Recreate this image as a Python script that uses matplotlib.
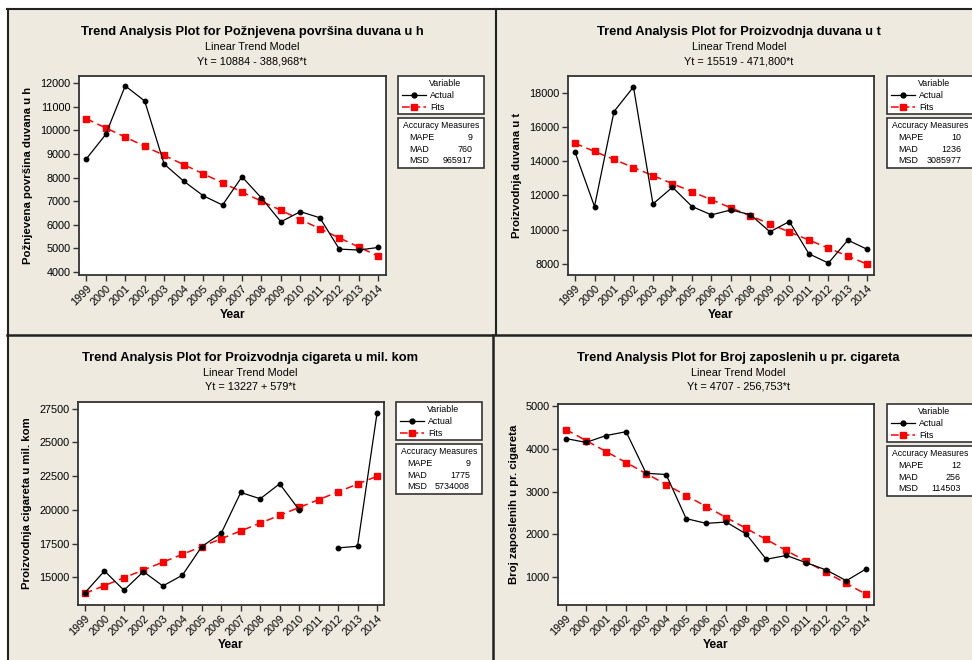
import numpy as np
import matplotlib.pyplot as plt
from matplotlib.lines import Line2D
from matplotlib.patches import Rectangle

plt.rcParams['font.family'] = ['Liberation Sans', 'DejaVu Sans']

# === DATA === #
years = ['1999', '2000', '2001', '2002', '2003', '2004', '2005', '2006',
         '2007', '2008', '2009', '2010', '2011', '2012', '2013', '2014']

povrsina_actual = [8790, 9830, 11890, 11250, 8570, 7850, 7230, 6830,
                   8030, 7130, 6120, 6550, 6290, 4960, 4920, 5030]
povrsina_fits = [10495, 10106, 9717, 9328, 8939, 8550, 8161, 7772,
                 7383, 6994, 6605, 6216, 5827, 5438, 5050, 4661]
povrsina_acc = ['9', '760', '965917']

duvan_actual = [14540, 11350, 16910, 18350, 11500, 12480, 11350, 10860,
                11150, 10870, 9870, 10470, 8580, 8040, 9380, 8840]
duvan_fits = [15047, 14575, 14104, 13632, 13160, 12688, 12216, 11745,
              11273, 10801, 10329, 9857, 9386, 8914, 8442, 7970]
duvan_acc = ['10', '1236', '3085977']

cigarete_actual = [13860, 15470, 14040, 15420, 14360, 15150, 17280, 18270,
                   21290, 20820, 21930, 20000, np.nan, 17180, 17300, 27150]
cigarete_fits = [13806, 14385, 14964, 15543, 16122, 16701, 17280, 17859,
                 18438, 19017, 19596, 20175, 20754, 21333, 21912, 22491]
cigarete_acc = ['9', '1775', '5734008']

zaposleni_actual = [4240, 4150, 4310, 4400, 3430, 3400, 2370, 2260,
                    2290, 2010, 1420, 1510, 1340, 1170, 920, 1200]
zaposleni_fits = [4450, 4194, 3937, 3680, 3423, 3167, 2910, 2653,
                  2396, 2140, 1883, 1626, 1369, 1113, 856, 599]
zaposleni_acc = ['12', '256', '114503']

# === FIGURE === #
W, H = 972, 660
BG = '#EEEAE0'
fig = plt.figure(figsize=(9.72, 6.6), dpi=100, facecolor='white')


def fx(x):
    return x / W


def fy(y):
    return 1 - y / H


def ftext(x, y, s, **kw):
    fig.text(fx(x), fy(y), s, va='center', **kw)


def fline(xs, ys, **kw):
    fig.add_artist(Line2D([fx(v) for v in xs], [fy(v) for v in ys],
                          transform=fig.transFigure, **kw))


fig.add_artist(Rectangle((fx(7), 0), 1, fy(9), transform=fig.transFigure,
                         facecolor=BG, edgecolor='none', zorder=-10))

# panel borders
fline([7, 972], [9, 9], color='#222222', lw=1.5)
fline([7.5, 7.5], [9, 660], color='#222222', lw=1.5)
fline([7, 972], [334.5, 334.5], color='#222222', lw=1.8)
fline([496, 496], [9, 334], color='#222222', lw=1.5)
fline([493, 493], [335, 660], color='#222222', lw=1.8)


def panel(box, name, eq, ylabel, actual, fits, yticks, ylim, xlim,
          title_xy, ylab_x, leg, acc):
    l, t, r, b = box
    ax = fig.add_axes([fx(l), fy(b), fx(r - l), (b - t) / H])
    ax.set_facecolor('white')
    x = np.arange(len(years))
    ax.plot(x, fits, color='#FF0000', lw=1.1, ls=(0, (5, 3)),
            marker='s', ms=4.2, zorder=2)
    ax.plot(x, actual, color='black', lw=0.9, marker='o', ms=3.2, zorder=3)
    ax.set_xticks(x)
    ax.set_xticklabels(years, rotation=45, ha='right', rotation_mode='anchor',
                       fontsize=7.8)
    ax.set_yticks(yticks)
    ax.tick_params(axis='y', labelsize=7.8)
    ax.tick_params(length=4, width=1, color='#333333', pad=2)
    ax.set_xlim(xlim)
    ax.set_ylim(ylim)
    for s in ax.spines.values():
        s.set_linewidth(1.3)
        s.set_color('#333333')

    tx, ty = title_xy
    ftext(tx, ty, 'Trend Analysis Plot for ' + name, ha='center',
          fontsize=9.3, fontweight='bold')
    ftext(tx, ty + 14.5, 'Linear Trend Model', ha='center', fontsize=7.8)
    ftext(tx, ty + 29, eq, ha='center', fontsize=7.8)
    ftext(ylab_x, (t + b) / 2, ylabel, ha='center', rotation=90,
          fontsize=8.2, fontweight='bold')
    ftext((l + r) / 2, b + 40, 'Year', ha='center', fontsize=8.7,
          fontweight='bold')

    # legend box
    lx, ly = leg
    fig.add_artist(Rectangle((fx(lx), fy(ly + 38)), fx(86), 38 / H,
                             transform=fig.transFigure, facecolor='white',
                             edgecolor='#333333', lw=1.2))
    ftext(lx + 47, ly + 7, 'Variable', ha='center', fontsize=6.4)
    fline([lx + 4, lx + 15.5, lx + 28], [ly + 19] * 3, color='black', lw=0.9,
          marker='o', ms=3.5, markevery=[1])
    fline([lx + 4, lx + 15.5, lx + 28], [ly + 31] * 3, color='#FF0000',
          lw=1.1, ls=(0, (5, 2)), marker='s', ms=4.2, markevery=[1])
    ftext(lx + 32, ly + 19, 'Actual', ha='left', fontsize=6.4)
    ftext(lx + 32, ly + 31, 'Fits', ha='left', fontsize=6.4)

    # accuracy box
    ay = ly + 42
    fig.add_artist(Rectangle((fx(lx), fy(ay + 50)), fx(86), 50 / H,
                             transform=fig.transFigure, facecolor='white',
                             edgecolor='#333333', lw=1.2))
    ftext(lx + 43, ay + 8, 'Accuracy Measures', ha='center', fontsize=6.2)
    for i, lab in enumerate(['MAPE', 'MAD', 'MSD']):
        ftext(lx + 11, ay + 19.5 + 11.5 * i, lab, ha='left', fontsize=6.4)
        ftext(lx + 74, ay + 19.5 + 11.5 * i, acc[i], ha='right', fontsize=6.4)


panel((79, 76, 386, 275), 'Požnjevena površina duvana u h',
      'Yt = 10884 - 388,968*t', 'Požnjevena površina duvana u h',
      povrsina_actual, povrsina_fits, range(4000, 12001, 1000),
      (3860, 12310), (-0.375, 15.4), (252, 32), 28, (398, 76), povrsina_acc)

panel((568, 76, 874, 275), 'Proizvodnja duvana u t',
      'Yt = 15519 - 471,800*t', 'Proizvodnja duvana u t',
      duvan_actual, duvan_fits, range(8000, 18001, 2000),
      (7340, 18990), (-0.36, 15.34), (739, 32), 517, (887, 76), duvan_acc)

panel((78, 402, 384, 605), 'Proizvodnja cigareta u mil. kom',
      'Yt = 13227 + 579*t', 'Proizvodnja cigareta u mil. kom',
      cigarete_actual, cigarete_fits, range(15000, 27501, 2500),
      (12946, 27995), (-0.36, 15.36), (250, 358), 27, (396, 402), cigarete_acc)

panel((558, 404, 874, 605), 'Broj zaposlenih u pr. cigareta',
      'Yt = 4707 - 256,753*t', 'Broj zaposlenih u pr. cigareta',
      zaposleni_actual, zaposleni_fits, range(1000, 5001, 1000),
      (353, 5047), (-0.4, 15.38), (738, 358), 514, (887, 404), zaposleni_acc)

fig.savefig('out.png', dpi=100, facecolor=fig.get_facecolor())
